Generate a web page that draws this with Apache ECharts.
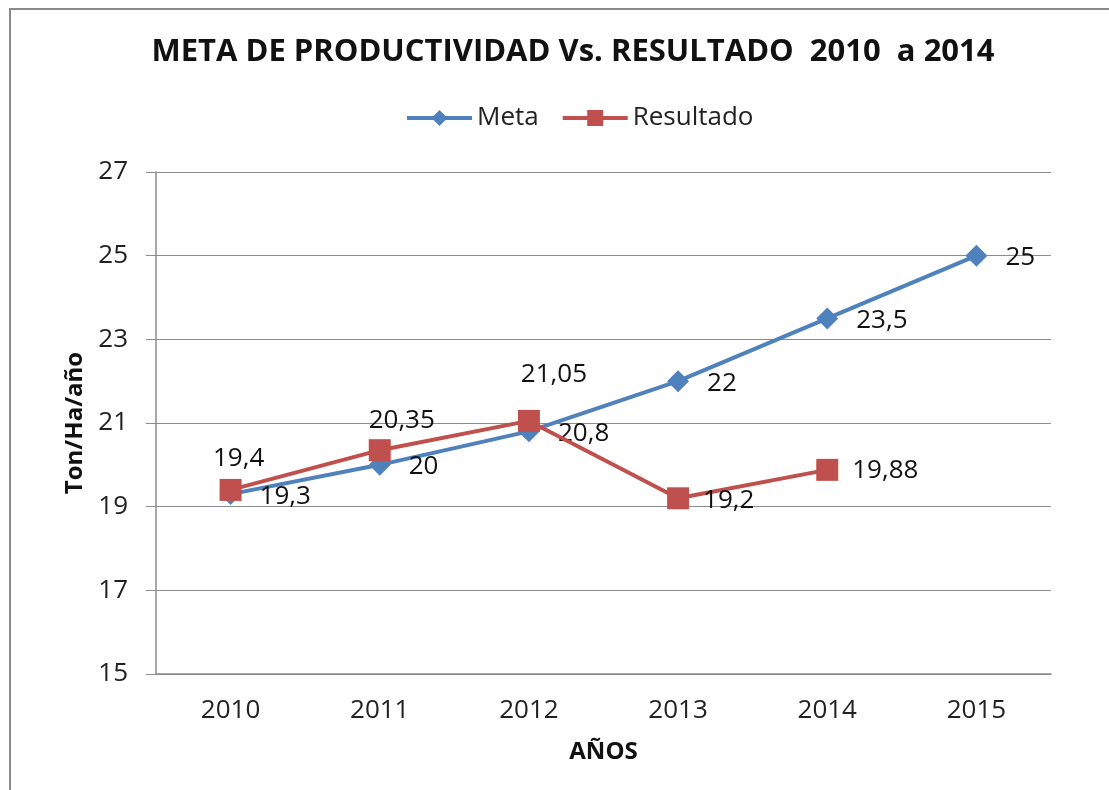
<!DOCTYPE html>
<html>
<head>
<meta charset="utf-8">
<script src="https://cdn.jsdelivr.net/npm/echarts@6/dist/echarts.min.js"></script>
<style>
  html, body { margin: 0; padding: 0; background: #fff; }
  #chart { width: 1109px; height: 790px; }
</style>
</head>
<body>
<div id="chart"></div>
<script>
// datos
const years = ['2010', '2011', '2012', '2013', '2014', '2015']
const meta = [19.3, 20, 20.8, 22, 23.5, 25]
const resultado = [19.4, 20.35, 21.05, 19.2, 19.88, null]
// posición de etiquetas de Resultado (arriba / derecha)
const resLabelPos = ['top', 'top', 'top', 'right', 'right', 'right']
const resLabelOffset = [[8, 7], [22, 8], [25, -8], [0, 2], [0, 1], [0, 0]]

const FONT = '"Open Sans", "DejaVu Sans", sans-serif'
const fmt = p => String(p.value).replace('.', ',')

const chart = echarts.init(document.getElementById('chart'))

chart.setOption({
  backgroundColor: '#fff',
  textStyle: { fontFamily: FONT },
  graphic: [{
    type: 'rect',
    shape: { x: 10, y: 9, width: 1120, height: 800 },
    style: { fill: 'none', stroke: '#8a8a8a', lineWidth: 2 },
    silent: true
  }],
  title: {
    text: 'META DE PRODUCTIVIDAD Vs. RESULTADO  2010  a 2014',
    left: 568,
    textAlign: 'center',
    top: 32,
    textStyle: { fontFamily: FONT, fontSize: 31, fontWeight: 'bold', color: '#111' }
  },
  legend: {
    top: 100,
    left: 400,
    itemWidth: 65,
    itemHeight: 20,
    itemGap: 22,
    lineStyle: { width: 4 },
    textStyle: { fontFamily: FONT, fontSize: 26, color: '#222' },
    data: ['Meta', 'Resultado']
  },
  grid: { left: 156, right: 58, top: 172, bottom: 116, containLabel: false },
  xAxis: {
    type: 'category',
    data: years,
    boundaryGap: true,
    name: 'AÑOS',
    nameLocation: 'middle',
    nameGap: 66,
    nameTextStyle: { fontFamily: FONT, fontSize: 24, fontWeight: 'bold', color: '#111' },
    axisLine: { lineStyle: { color: '#8c8c8c', width: 1.5 } },
    axisTick: { show: false },
    axisLabel: { fontFamily: FONT, fontSize: 26, color: '#222', margin: 24 }
  },
  yAxis: {
    type: 'value',
    min: 15,
    max: 27,
    interval: 2,
    name: 'Ton/Ha/año',
    nameLocation: 'middle',
    nameGap: 68,
    nameTextStyle: { fontFamily: FONT, fontSize: 24, fontWeight: 'bold', color: '#111' },
    axisLine: { show: true, lineStyle: { color: '#8c8c8c', width: 1.5 } },
    axisTick: { show: true, length: 10, inside: false, lineStyle: { color: '#8c8c8c' } },
    axisLabel: { fontFamily: FONT, fontSize: 26, color: '#222', margin: 28 },
    splitLine: { show: true, lineStyle: { color: '#8c8c8c', width: 1.2 } }
  },
  series: [
    {
      name: 'Meta',
      type: 'line',
      data: meta,
      symbol: 'diamond',
      symbolSize: 22,
      itemStyle: { color: '#4F81BD' },
      lineStyle: { color: '#4F81BD', width: 4 },
      z: 2,
      label: {
        show: true,
        position: 'right',
        distance: 18,
        offset: [0, 2],
        fontFamily: FONT,
        fontSize: 26,
        color: '#111',
        formatter: fmt
      }
    },
    {
      name: 'Resultado',
      type: 'line',
      data: resultado.map((v, i) => ({
        value: v,
        label: { position: resLabelPos[i], offset: resLabelOffset[i] }
      })),
      symbol: 'rect',
      symbolSize: 22,
      itemStyle: { color: '#C0504D' },
      lineStyle: { color: '#C0504D', width: 4 },
      z: 3,
      label: {
        show: true,
        distance: 14,
        fontFamily: FONT,
        fontSize: 26,
        color: '#111',
        formatter: fmt
      }
    }
  ]
})
</script>
</body>
</html>
